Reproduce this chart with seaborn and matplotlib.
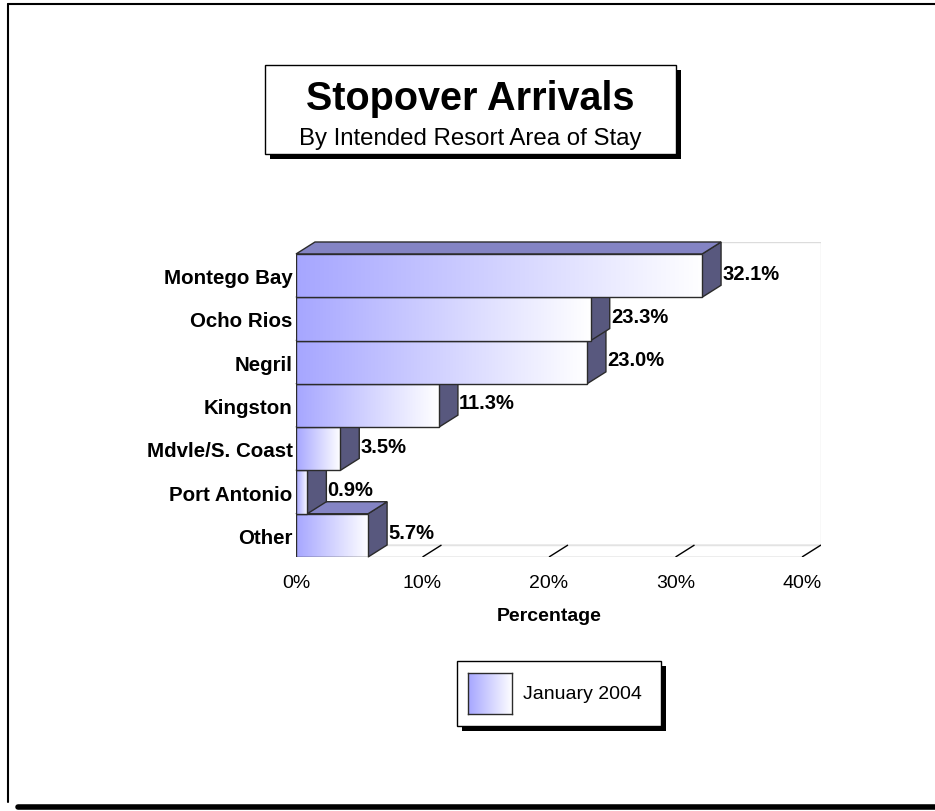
"""Stopover arrivals by intended resort area, drawn as pseudo-3D horizontal bars."""

import matplotlib
import numpy as np
import pandas as pd

matplotlib.use("Agg")
import matplotlib.pyplot as plt
import seaborn as sns
from matplotlib.colors import LinearSegmentedColormap
from matplotlib.patches import Polygon, Rectangle

# data
AREAS = ["Montego Bay", "Ocho Rios", "Negril", "Kingston",
         "Mdvle/S. Coast", "Port Antonio", "Other"]
SHARES = [32.1, 23.3, 23.0, 11.3, 3.5, 0.9, 5.7]
X_TICKS = [0, 10, 20, 30, 40]
TITLE = "Stopover Arrivals"
SUBTITLE = "By Intended Resort Area of Stay"
SERIES = "January 2004"

FIG_W, FIG_H = 935, 812
FRONT_LEFT = "#a6a6ff"
TOP_COLOR = "#8484c4"
SIDE_COLOR = "#58587e"
EDGE = "#2b2b2b"
DEPTH_X = 1.5    # in percent units
DEPTH_Y = 0.277  # in category units

grad_cmap = LinearSegmentedColormap.from_list("bar", [FRONT_LEFT, "#ffffff"])
gradient = np.linspace(0, 1, 256).reshape(1, -1)


def fx(x):
    return x / FIG_W


def fy(y):
    return 1 - y / FIG_H


def fig_rect(fig, x0, y0, x1, y1, **kw):
    fig.patches.append(Rectangle((fx(x0), fy(y1)), fx(x1) - fx(x0), fy(y0) - fy(y1),
                                 transform=fig.transFigure, figure=fig, **kw))


def draw_page(fig):
    fig.add_artist(plt.Line2D([fx(8), fx(935)], [fy(5), fy(5)], color="black", lw=1.5))
    fig.add_artist(plt.Line2D([fx(8), fx(8)], [fy(5), fy(803)], color="black", lw=1.5))
    fig.add_artist(plt.Line2D([fx(18), fx(935)], [fy(808), fy(808)], color="black", lw=4))

    # title box with drop shadow
    fig_rect(fig, 270, 71, 681, 160, facecolor="black", edgecolor="black", lw=0)
    fig_rect(fig, 265, 66, 676, 155, facecolor="white", edgecolor="black", lw=1)
    fig.text(fx(470.5), fy(99), TITLE, ha="center", va="center",
             fontsize=28.5, fontweight="bold")
    fig.text(fx(470.5), fy(139), SUBTITLE, ha="center", va="center", fontsize=17.3)

    # legend box with drop shadow
    fig_rect(fig, 462, 667, 666, 732, facecolor="black", edgecolor="black", lw=0)
    fig_rect(fig, 457, 662, 661, 727, facecolor="white", edgecolor="black", lw=1)
    swatch = fig.add_axes([fx(468), fy(715), fx(512) - fx(468), fy(674) - fy(715)])
    swatch.set_zorder(5)
    swatch.imshow(gradient, cmap=grad_cmap, aspect="auto")
    swatch.set_xticks([])
    swatch.set_yticks([])
    for spine in swatch.spines.values():
        spine.set_visible(True)
        spine.set_color(EDGE)
        spine.set_linewidth(1)
    fig.text(fx(523), fy(695), SERIES, ha="left", va="center", fontsize=14)


def draw_bars(ax, df):
    sns.barplot(data=df, x="Share", y="Area", orient="h", width=1.0,
                color=FRONT_LEFT, edgecolor=EDGE, linewidth=1, ax=ax)
    n = len(df)
    for i, (patch, value) in enumerate(zip(ax.patches, df["Share"])):
        base = 10 + (n - i) * 4
        top, bottom = i - 0.5, i + 0.5
        side = Polygon([(value, top), (value, bottom),
                        (value + DEPTH_X, bottom - DEPTH_Y), (value + DEPTH_X, top - DEPTH_Y)],
                       closed=True, facecolor=SIDE_COLOR, edgecolor=EDGE, lw=1,
                       zorder=base, clip_on=False)
        lid = Polygon([(0, top), (value, top),
                       (value + DEPTH_X, top - DEPTH_Y), (DEPTH_X, top - DEPTH_Y)],
                      closed=True, facecolor=TOP_COLOR, edgecolor=EDGE, lw=1,
                      zorder=base, clip_on=False)
        ax.add_patch(side)
        ax.add_patch(lid)
        patch.set_facecolor("none")
        patch.set_zorder(base + 2)
        img = ax.imshow(gradient, cmap=grad_cmap, aspect="auto",
                        extent=(0, value, bottom, top), zorder=base + 1)
        img.set_clip_path(patch)
        ax.text(value + DEPTH_X + 0.1, i - 0.06, f"{value:.1f}%", ha="left", va="center",
                fontsize=14.5, fontweight="bold", zorder=100)


def draw_walls(ax, n):
    ax.add_patch(Rectangle((DEPTH_X, -0.5 - DEPTH_Y), X_TICKS[-1], n,
                           facecolor="none", edgecolor="#dcdcdc", lw=1, zorder=1))
    floor = [(0, n - 0.5), (X_TICKS[-1], n - 0.5),
             (X_TICKS[-1] + DEPTH_X, n - 0.5 - DEPTH_Y), (DEPTH_X, n - 0.5 - DEPTH_Y)]
    ax.add_patch(Polygon(floor, closed=True, facecolor="none", edgecolor="#e6e6e6",
                         lw=1, zorder=1))
    for t in X_TICKS[1:]:
        ax.plot([t, t + DEPTH_X], [n - 0.5, n - 0.5 - DEPTH_Y], color="black",
                lw=1, zorder=2, solid_capstyle="butt")


def main():
    sns.set_theme(style="white")
    plt.rcParams["font.family"] = ["Liberation Sans", "DejaVu Sans"]
    plt.rcParams["text.color"] = "black"
    plt.rcParams["axes.labelcolor"] = "black"
    plt.rcParams["xtick.color"] = "black"
    plt.rcParams["ytick.color"] = "black"

    df = pd.DataFrame({"Area": AREAS, "Share": SHARES})
    n = len(df)

    fig = plt.figure(figsize=(FIG_W / 100, FIG_H / 100), dpi=100)
    ax = fig.add_axes([fx(296), fy(558), fx(821) - fx(296), fy(243) - fy(558)])

    draw_bars(ax, df)
    draw_walls(ax, n)

    ax.set_xlim(0, X_TICKS[-1] + DEPTH_X)
    ax.set_ylim(n - 0.5, -0.5 - DEPTH_Y)
    ax.set_xticks(X_TICKS)
    ax.set_xticklabels([f"{t}%" for t in X_TICKS], fontsize=14)
    ax.set_yticks(range(n))
    ax.set_yticklabels(AREAS, fontsize=14.8, fontweight="bold")
    ax.tick_params(axis="x", length=0, pad=12)
    ax.tick_params(axis="y", length=0, pad=2.5)
    ax.set_ylabel("")
    ax.set_xlabel("Percentage", fontsize=14, fontweight="bold")
    ax.xaxis.set_label_coords(0.482, -0.16)
    for spine in ax.spines.values():
        spine.set_visible(False)

    draw_page(fig)
    fig.savefig("out.png", dpi=100)
    plt.close(fig)


if __name__ == "__main__":
    main()
